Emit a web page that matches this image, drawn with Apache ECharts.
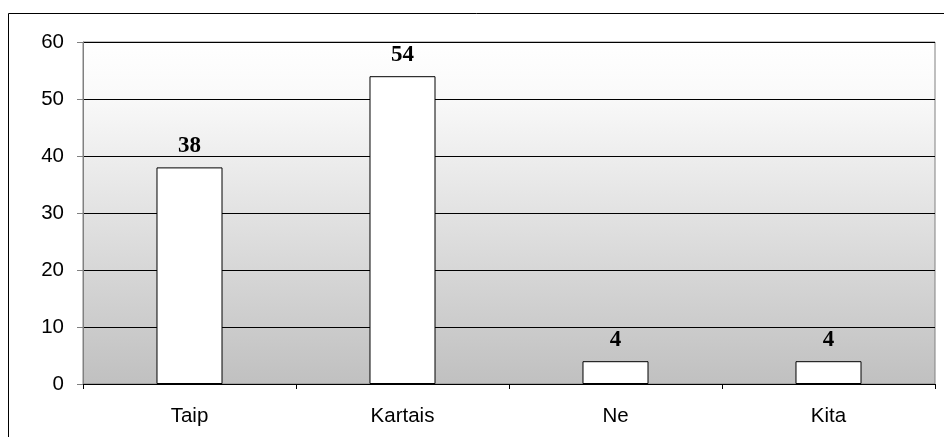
<!DOCTYPE html>
<html>
<head>
<meta charset="utf-8">
<script src="https://cdn.jsdelivr.net/npm/echarts@6/dist/echarts.min.js"></script>
<style>
html,body{margin:0;padding:0;background:#fff;}
#chart{width:944px;height:437px;}
</style>
</head>
<body>
<div id="chart"></div>
<script>
const categories = ['Taip', 'Kartais', 'Ne', 'Kita'];
const values = [38, 54, 4, 4];
const yTicks = [0, 10, 20, 30, 40, 50, 60];

const chart = echarts.init(document.getElementById('chart'), null, {renderer: 'canvas'});
chart.setOption({
  animation: false,
  graphic: [{
    type: 'rect',
    shape: {x: 8.5, y: 13.5, width: 1000, height: 1000},
    style: {fill: 'none', stroke: '#000', lineWidth: 1},
    silent: true,
    z: 100
  }],
  grid: {
    left: 83, right: 9, top: 42, bottom: 53,
    show: true,
    borderColor: '#808080',
    borderWidth: 1,
    backgroundColor: {
      type: 'linear', x: 0, y: 0, x2: 0, y2: 1,
      colorStops: [
        {offset: 0, color: '#ffffff'},
        {offset: 0.15, color: '#fafafa'},
        {offset: 1, color: '#c0c0c0'}
      ]
    }
  },
  xAxis: {
    type: 'category',
    data: categories,
    axisLine: {show: true, lineStyle: {color: '#000', width: 1}},
    axisTick: {show: true, inside: false, length: 5, alignWithLabel: false, lineStyle: {color: '#000'}},
    axisLabel: {color: '#000', fontFamily: 'Liberation Sans, Arial, sans-serif', fontSize: 20.5, margin: 22}
  },
  yAxis: {
    type: 'value',
    min: yTicks[0],
    max: yTicks[yTicks.length - 1],
    interval: 10,
    axisLine: {show: true, lineStyle: {color: '#808080', width: 1}},
    axisTick: {show: true, inside: false, length: 6, lineStyle: {color: '#808080'}},
    axisLabel: {color: '#000', fontFamily: 'Liberation Sans, Arial, sans-serif', fontSize: 20.5, margin: 19},
    splitLine: {show: true, lineStyle: {color: '#000', width: 1}}
  },
  series: [{
    type: 'bar',
    data: values,
    barWidth: '31%',
    itemStyle: {color: '#ffffff', borderColor: '#000', borderWidth: 1},
    label: {
      show: true,
      position: 'top',
      distance: 10,
      color: '#000',
      fontFamily: 'Liberation Serif, Times New Roman, serif',
      fontWeight: 'bold',
      fontSize: 23
    }
  }]
});
</script>
</body>
</html>
